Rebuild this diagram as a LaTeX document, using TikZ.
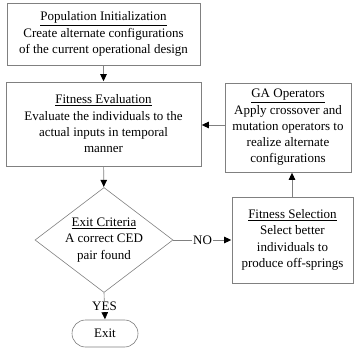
\documentclass[tikz,border=0pt]{standalone}
\usepackage{fontspec}
\setmainfont{Liberation Serif}
\usetikzlibrary{shapes.geometric,shapes.misc,arrows.meta}

\tikzset{
    box/.style={draw=gray, line width=0.6pt, align=center, inner sep=0pt, font=\fontsize{13}{16.3}\selectfont},
    flow/.style={draw=gray, line width=0.6pt, -{Triangle[length=7pt,width=6.5pt,color=black]}, shorten >=0.5pt}
}

\begin{document}
\begin{tikzpicture}[x=1pt,y=-1pt]
    %\draw[very thin,color=gray] (0,0) grid[step=50] (358,352);
    \useasboundingbox (0,0) rectangle (358,352);
    \node[box, minimum width=193pt, minimum height=62pt] (popinit) at (103.5,34)
        {\underline{Population Initialization}\\Create alternate configurations\\of the current operational design};
    \node[box, minimum width=195pt, minimum height=84pt] (fiteval) at (103.5,124)
        {\underline{Fitness Evaluation}\\Evaluate the individuals to the\\actual inputs in temporal\\manner};
    \node[box, minimum width=126pt, minimum height=89pt] (gaops) at (288,127.5)
        {\underline{GA Operators}\\Apply crossover and\\mutation operators to\\realize alternate\\configurations};
    \node[box, diamond, minimum width=138pt, minimum height=105pt, aspect=1.31] (exitcrit) at (104,240)
        {\underline{Exit Criteria}\\A correct CED\\pair found};
    \node[box, minimum width=121pt, minimum height=86pt] (fitsel) at (292.5,240)
        {\underline{Fitness Selection}\\Select better\\individuals to\\produce off-springs};
    \node[box, rounded rectangle, minimum width=66pt, minimum height=27pt] (exitnode) at (105,333.5) {Exit};

    \draw[flow] (popinit) -- (fiteval);
    \draw[flow] (fiteval) -- (exitcrit);
    \draw[flow] (gaops.west |- 0,125) -- (fiteval.east |- 0,125);
    \draw[flow] (exitcrit) -- node[fill=white, font=\fontsize{13}{15}\selectfont, inner sep=1pt] {NO} (fitsel);
    \draw[flow] (fitsel.north -| 292,0) -- (gaops.south -| 292,0);
    \draw[flow] (exitcrit.south) -- node[fill=white, font=\fontsize{13}{15}\selectfont, inner sep=1pt] {YES} (exitnode.north);
\end{tikzpicture}
\end{document}
